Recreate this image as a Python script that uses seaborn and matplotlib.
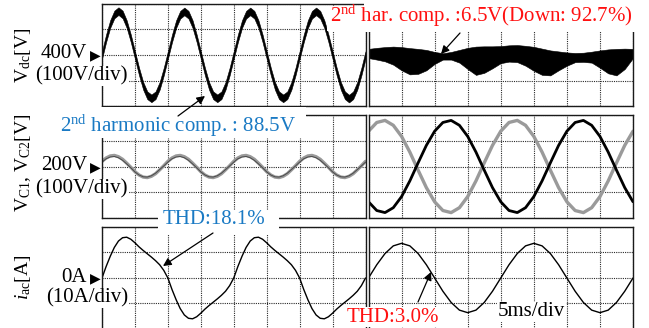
import numpy as np
import matplotlib
matplotlib.use("Agg")
import matplotlib.pyplot as plt
import seaborn as sns
from matplotlib.patches import Rectangle, FancyArrowPatch

# Oscilloscope traces, in divisions (x: 0..8 div, y: -2..2 div)
t_fine = np.linspace(0, 8, 65)    # 1/8 div sampling
t_coarse = np.linspace(0, 8, 33)  # 1/4 div sampling

# Vdc before (2nd harmonic ripple), centre of the thick band
vdc_before = [
    0, 0.66, 1.22, 1.59, 1.72, 1.59, 1.21, 0.65, 0, -0.65, -1.21, -1.58, -1.70, -1.58, -1.21, -0.65,
    0, 0.65, 1.21, 1.58, 1.71, 1.58, 1.21, 0.65, 0, -0.65, -1.21, -1.58, -1.70, -1.58, -1.21, -0.65,
    0, 0.65, 1.21, 1.58, 1.71, 1.58, 1.21, 0.65, 0, -0.65, -1.21, -1.58, -1.70, -1.58, -1.21, -0.65,
    0, 0.65, 1.21, 1.58, 1.71, 1.58, 1.21, 0.65, 0, -0.65, -1.21, -1.58, -1.71, -1.58, -1.21, -0.65,
    0,
]
vdc_ripple = 0.15

# Vdc after: upper / lower edge of the band
vdc_after_top = [
    0.24, 0.28, 0.31, 0.33, 0.31, 0.27, 0.24, 0.20, 0.12, 0.07, 0.12, 0.20, 0.28, 0.33, 0.34, 0.34,
    0.35, 0.38, 0.39, 0.36, 0.32, 0.25, 0.18, 0.14, 0.10, 0.08, 0.09, 0.13, 0.18, 0.22, 0.24, 0.25,
    0.24,
]
vdc_after_bot = [
    -0.12, -0.18, -0.25, -0.38, -0.60, -0.76, -0.74, -0.60, -0.35, -0.18, -0.18, -0.30, -0.55, -0.78, -0.70, -0.52,
    -0.32, -0.26, -0.28, -0.42, -0.62, -0.78, -0.80, -0.60, -0.42, -0.28, -0.27, -0.30, -0.50, -0.72, -0.80, -0.55,
    -0.12,
]

# VC1, VC2 before
vc1_before = [
    0.20, 0.33, 0.41, 0.43, 0.38, 0.28, 0.13, -0.03, -0.20, -0.33, -0.41, -0.43, -0.38, -0.28, -0.13, 0.03,
    0.20, 0.33, 0.41, 0.43, 0.38, 0.28, 0.13, -0.03, -0.20, -0.33, -0.41, -0.43, -0.38, -0.28, -0.13, 0.03,
    0.20, 0.33, 0.41, 0.43, 0.38, 0.28, 0.13, -0.03, -0.20, -0.33, -0.41, -0.43, -0.38, -0.28, -0.13, 0.03,
    0.20, 0.33, 0.41, 0.43, 0.38, 0.28, 0.13, -0.03, -0.20, -0.33, -0.41, -0.43, -0.38, -0.28, -0.13, 0.03,
    0.20,
]
vc2_before = [
    0.17, 0.30, 0.37, 0.39, 0.34, 0.24, 0.10, -0.05, -0.21, -0.33, -0.40, -0.41, -0.36, -0.26, -0.12, 0.02,
    0.17, 0.30, 0.37, 0.39, 0.34, 0.24, 0.10, -0.05, -0.21, -0.33, -0.40, -0.41, -0.36, -0.26, -0.12, 0.02,
    0.17, 0.30, 0.37, 0.39, 0.34, 0.24, 0.10, -0.05, -0.21, -0.33, -0.40, -0.41, -0.36, -0.26, -0.12, 0.02,
    0.17, 0.30, 0.37, 0.39, 0.34, 0.24, 0.10, -0.05, -0.21, -0.33, -0.40, -0.41, -0.36, -0.26, -0.12, 0.02,
    0.17,
]

# VC1 (grey) and VC2 (black) after
vc1_after = [
    1.37, 1.71, 1.79, 1.60, 1.17, 0.56, -0.14, -0.82, -1.37, -1.71, -1.79, -1.60, -1.17, -0.56, 0.14, 0.82,
    1.37, 1.71, 1.79, 1.60, 1.17, 0.56, -0.14, -0.82, -1.37, -1.71, -1.79, -1.60, -1.17, -0.56, 0.14, 0.82,
    1.37,
]
vc2_after = [
    -1.37, -1.71, -1.79, -1.60, -1.17, -0.56, 0.14, 0.82, 1.37, 1.71, 1.79, 1.60, 1.17, 0.56, -0.14, -0.82,
    -1.37, -1.71, -1.79, -1.60, -1.17, -0.56, 0.14, 0.82, 1.37, 1.71, 1.79, 1.60, 1.17, 0.56, -0.14, -0.82,
    -1.37,
]

# iac before (distorted) and after
iac_before = [
    0, 0.45, 0.85, 1.20, 1.45, 1.58, 1.60, 1.52, 1.38, 1.22, 1.08, 0.95, 0.82, 0.68, 0.52, 0.30,
    0, -0.45, -0.85, -1.20, -1.45, -1.58, -1.60, -1.52, -1.38, -1.22, -1.08, -0.95, -0.82, -0.68, -0.52, -0.30,
    0, 0.45, 0.85, 1.20, 1.45, 1.58, 1.60, 1.52, 1.38, 1.22, 1.08, 0.95, 0.82, 0.68, 0.52, 0.30,
    0, -0.45, -0.85, -1.20, -1.45, -1.58, -1.60, -1.52, -1.38, -1.22, -1.08, -0.95, -0.82, -0.68, -0.52, -0.30,
    0,
]
iac_after = [
    0, 0.52, 0.96, 1.26, 1.36, 1.26, 0.96, 0.52, 0, -0.52, -0.96, -1.26, -1.36, -1.26, -0.96, -0.52,
    0, 0.52, 0.96, 1.26, 1.36, 1.26, 0.96, 0.52, 0, -0.52, -0.96, -1.26, -1.36, -1.26, -0.96, -0.52,
    0,
]

sns.set_theme(style="white")
plt.rcParams["font.family"] = ["Liberation Serif", "DejaVu Sans"]
plt.rcParams["mathtext.fontset"] = "custom"
plt.rcParams["mathtext.rm"] = "Liberation Serif"
plt.rcParams["mathtext.it"] = "Liberation Serif:italic"

W, H = 649, 328
fig = plt.figure(figsize=(W / 100, H / 100), dpi=100)


def fp(x, y):
    return (x / W, 1 - y / H)


def scope(x0, x1, y0, y1):
    ax = fig.add_axes([x0 / W, 1 - y1 / H, (x1 - x0) / W, (y1 - y0) / H])
    return ax


def finish(ax):
    ax.set_xlim(0, 8)
    ax.set_ylim(-2, 2)
    ax.set_xticks(range(9))
    ax.set_yticks(range(-2, 3))
    ax.tick_params(length=0, labelbottom=False, labelleft=False)
    ax.grid(True, color="#2a2a2a", lw=0.8, ls=(0, (1, 1)))
    ax.set_axisbelow(True)
    ax.set_xlabel("")
    ax.set_ylabel("")
    for s in ax.spines.values():
        s.set_color("#1a1a1a")
        s.set_linewidth(1.0)


cols = [(102, 365.5), (368.5, 633)]
rows = [(4, 106), (115, 218), (227, 329)]

# row 1: Vdc
ax = scope(*cols[0], *rows[0])
v = np.array(vdc_before)
ax.fill_between(t_fine, v - vdc_ripple, v + vdc_ripple, color="black", lw=0.4)
finish(ax)

ax = scope(*cols[1], *rows[0])
ax.fill_between(t_coarse, vdc_after_bot, vdc_after_top, color="black", lw=0.4)
finish(ax)

# row 2: VC1, VC2
ax = scope(*cols[0], *rows[1])
sns.lineplot(x=t_fine, y=vc1_before, ax=ax, color="#9a9a9a", lw=2.4)
sns.lineplot(x=t_fine, y=vc2_before, ax=ax, color="#4a4a4a", lw=0.7)
finish(ax)

ax = scope(*cols[1], *rows[1])
sns.lineplot(x=t_coarse, y=vc1_after, ax=ax, color="#9a9a9a", lw=2.4)
sns.lineplot(x=t_coarse, y=vc2_after, ax=ax, color="black", lw=2.0)
finish(ax)

# row 3: iac
ax = scope(*cols[0], *rows[2])
sns.lineplot(x=t_fine, y=iac_before, ax=ax, color="black", lw=1.0)
finish(ax)

ax = scope(*cols[1], *rows[2])
sns.lineplot(x=t_coarse, y=iac_after, ax=ax, color="black", lw=1.0)
finish(ax)


def white(x0, y0, x1, y1):
    fig.add_artist(Rectangle(fp(x0, y1), (x1 - x0) / W, (y1 - y0) / H,
                             transform=fig.transFigure, facecolor="white",
                             edgecolor="none", zorder=10))


def label(x, y, s, ha="left", color="black", size=15, box=False, **kw):
    bb = dict(facecolor="white", edgecolor="none", pad=0.5) if box else None
    fig.text(*fp(x, y), s, ha=ha, va="center", color=color, fontsize=size,
             bbox=bb, zorder=11, **kw)


def arrow(xa, ya, xb, yb):
    fig.add_artist(FancyArrowPatch(fp(xa, ya), fp(xb, yb), transform=fig.transFigure,
                                   arrowstyle="-|>", mutation_scale=12, color="black",
                                   lw=0.9, shrinkA=0, shrinkB=0, zorder=12))


white(364, 0, 649, 32)
white(327, 6, 364, 31)
white(48, 107, 306, 138)
white(158, 210, 279, 234)

red = "#ff1010"
blue = "#1a7ac4"

# left-side labels
label(23, 55, "V$_{\\rm dc}$[V]", ha="center", size=14, rotation=90)
label(87, 54, "400V", ha="right")
label(95, 55, "\u25b6", ha="center", size=10, family="DejaVu Sans")
label(128, 76, "(100V/div)", ha="right", box=True)

label(23, 163, "V$_{\\rm C1}$, V$_{\\rm C2}$[V]", ha="center", size=14, rotation=90)
label(87, 166, "200V", ha="right")
label(95, 167, "\u25b6", ha="center", size=10, family="DejaVu Sans")
label(128, 189, "(100V/div)", ha="right", box=True)

label(23, 277, "$i_{\\rm ac}$[A]", ha="center", size=14, rotation=90)
label(87, 277, "0A", ha="right")
label(95, 278, "\u25b6", ha="center", size=10, family="DejaVu Sans")
label(128, 298, "(10A/div)", ha="right", box=True)

# annotations
label(330, 16, "2$^{\\rm nd}$ har. comp. :6.5V(Down: 92.7%)", color=red)
arrow(460, 33, 441, 54)

label(60, 126, "2$^{\\rm nd}$ harmonic comp. : 88.5V", color=blue)
arrow(178, 116, 205, 96)

label(163, 220, "THD:18.1%", color=blue)
arrow(213, 233, 163, 266)

label(347, 317, "THD:3.0%", color=red, box=True)
arrow(418, 302, 431, 272)

label(498, 312, "5ms/div", box=True)

fig.savefig("out.png", dpi=100)
